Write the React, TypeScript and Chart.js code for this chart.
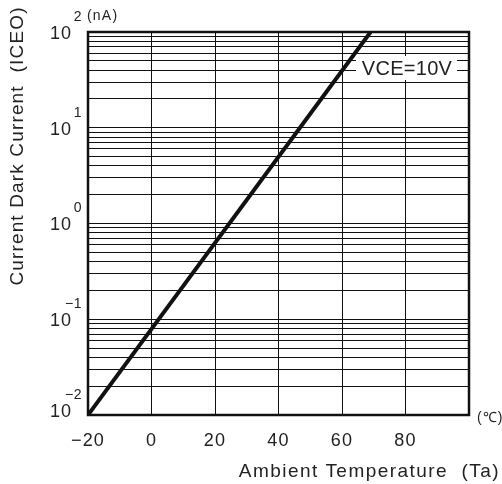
import { useEffect, useRef } from "react";
import { Chart, registerables } from "chart.js";

Chart.register(...registerables);

// Dark current vs ambient temperature (VCE = 10 V)
const temperatureC = [-20, 69];
const darkCurrentNA = [0.01, 100];

const xTickValues = [-20, 0, 20, 40, 60, 80];
const xTickLabels = ["−20", "0", "20", "40", "60", "80"];
const yDecadeExponents = [-2, -1, 0, 1, 2];
const yExponentLabels = ["−2", "−1", "0", "1", "2"];
const minorMultipliers = [1, 2, 3, 4, 5, 6, 7, 8, 9];

const seriesLabel = "VCE=10V";
const xTitle = "Ambient Temperature  (Ta)";
const yTitle = "Current Dark Current  (ICEO)";
const yUnit = "(nA)";
const xUnit = "(℃)";

const FONT = '"Liberation Sans", Arial, sans-serif';
const INK = "#111";
const TEXT_INK = "#222";

// grid values for the log axis: 1..9 x 10^e for each decade, plus the top decade
const yGridValues: number[] = [];
yDecadeExponents.slice(0, -1).forEach((e) =>
  minorMultipliers.forEach((m) => yGridValues.push(m * Math.pow(10, e)))
);
yGridValues.push(Math.pow(10, yDecadeExponents[yDecadeExponents.length - 1]));

function text(
  ctx: CanvasRenderingContext2D,
  str: string,
  x: number,
  y: number,
  size: number,
  spacing: number,
  align: CanvasTextAlign,
  baseline: CanvasTextBaseline = "middle"
) {
  ctx.save();
  ctx.font = `${size}px ${FONT}`;
  (ctx as any).letterSpacing = `${spacing}px`;
  ctx.textAlign = align;
  ctx.textBaseline = baseline;
  ctx.fillStyle = TEXT_INK;
  ctx.fillText(str, x, y);
  ctx.restore();
}

const decorations = {
  id: "decorations",
  beforeDatasetsDraw(chart: any) {
    const { ctx, chartArea } = chart;
    // white plate behind the curve label
    ctx.save();
    ctx.fillStyle = "#fff";
    ctx.fillRect(chartArea.right - 113, chartArea.top + 24, 101, 24);
    ctx.restore();
    text(ctx, seriesLabel, chartArea.right - 62, chartArea.top + 37, 20, 0.3, "center");
  },
  afterDraw(chart: any) {
    const { ctx, chartArea, scales } = chart;
    const xs = scales.x;
    const ys = scales.y;

    // frame
    ctx.save();
    ctx.strokeStyle = INK;
    ctx.lineWidth = 2.5;
    ctx.strokeRect(
      chartArea.left,
      chartArea.top,
      chartArea.right - chartArea.left,
      chartArea.bottom - chartArea.top
    );
    ctx.restore();

    // y decade labels: 10 with superscript exponent
    yDecadeExponents.forEach((e, i) => {
      const py = ys.getPixelForValue(Math.pow(10, e));
      const cy = i === 0 ? py - 3 : py + 2;
      text(ctx, "10", 50, cy, 18, 1, "left");
      text(ctx, yExponentLabels[i], 82, cy - 17, 14, 0.5, "right");
    });
    text(ctx, yUnit, 87, 16, 14, 1.2, "left");

    // x tick labels
    xTickValues.forEach((v, i) => {
      const px = xs.getPixelForValue(v);
      text(ctx, xTickLabels[i], px, 441, 18, 1.2, "center");
    });
    text(ctx, xUnit, 477, 418, 14, 1, "left");

    // axis titles
    text(ctx, xTitle, 500, 477, 19, 1.45, "right", "alphabetic");
    ctx.save();
    ctx.translate(18, 146);
    ctx.rotate(-Math.PI / 2);
    text(ctx, yTitle, 0, 0, 19, 1.15, "center");
    ctx.restore();
  },
};

export default function App() {
  const canvasRef = useRef<HTMLCanvasElement>(null);

  useEffect(() => {
    const canvas = canvasRef.current!;
    const chart = new Chart(canvas, {
      type: "line",
      data: {
        datasets: [
          {
            label: seriesLabel,
            data: temperatureC.map((t, i) => ({ x: t, y: darkCurrentNA[i] })),
            borderColor: INK,
            borderWidth: 4,
            pointRadius: 0,
            tension: 0,
          },
        ],
      },
      options: {
        animation: false,
        responsive: false,
        devicePixelRatio: 1,
        layout: { padding: { left: 88, top: 32, right: 33, bottom: 69 } },
        plugins: { legend: { display: false }, tooltip: { enabled: false } },
        scales: {
          x: {
            type: "linear",
            min: -20,
            max: 100,
            ticks: { display: false, stepSize: 20 },
            grid: { color: INK, lineWidth: 1, drawTicks: false },
            border: { display: false },
          },
          y: {
            type: "logarithmic",
            min: 0.01,
            max: 100,
            ticks: { display: false, autoSkip: false },
            afterBuildTicks: (scale: any) => {
              scale.ticks = yGridValues.map((v) => ({ value: v }));
            },
            grid: { color: INK, lineWidth: 1, drawTicks: false },
            border: { display: false },
          },
        },
      },
      plugins: [decorations],
    } as any);
    return () => chart.destroy();
  }, []);

  return (
    <div style={{ position: "absolute", left: 0, top: 0, width: 502, height: 484, background: "#fff" }}>
      <canvas ref={canvasRef} width={502} height={484} style={{ display: "block" }} />
    </div>
  );
}
